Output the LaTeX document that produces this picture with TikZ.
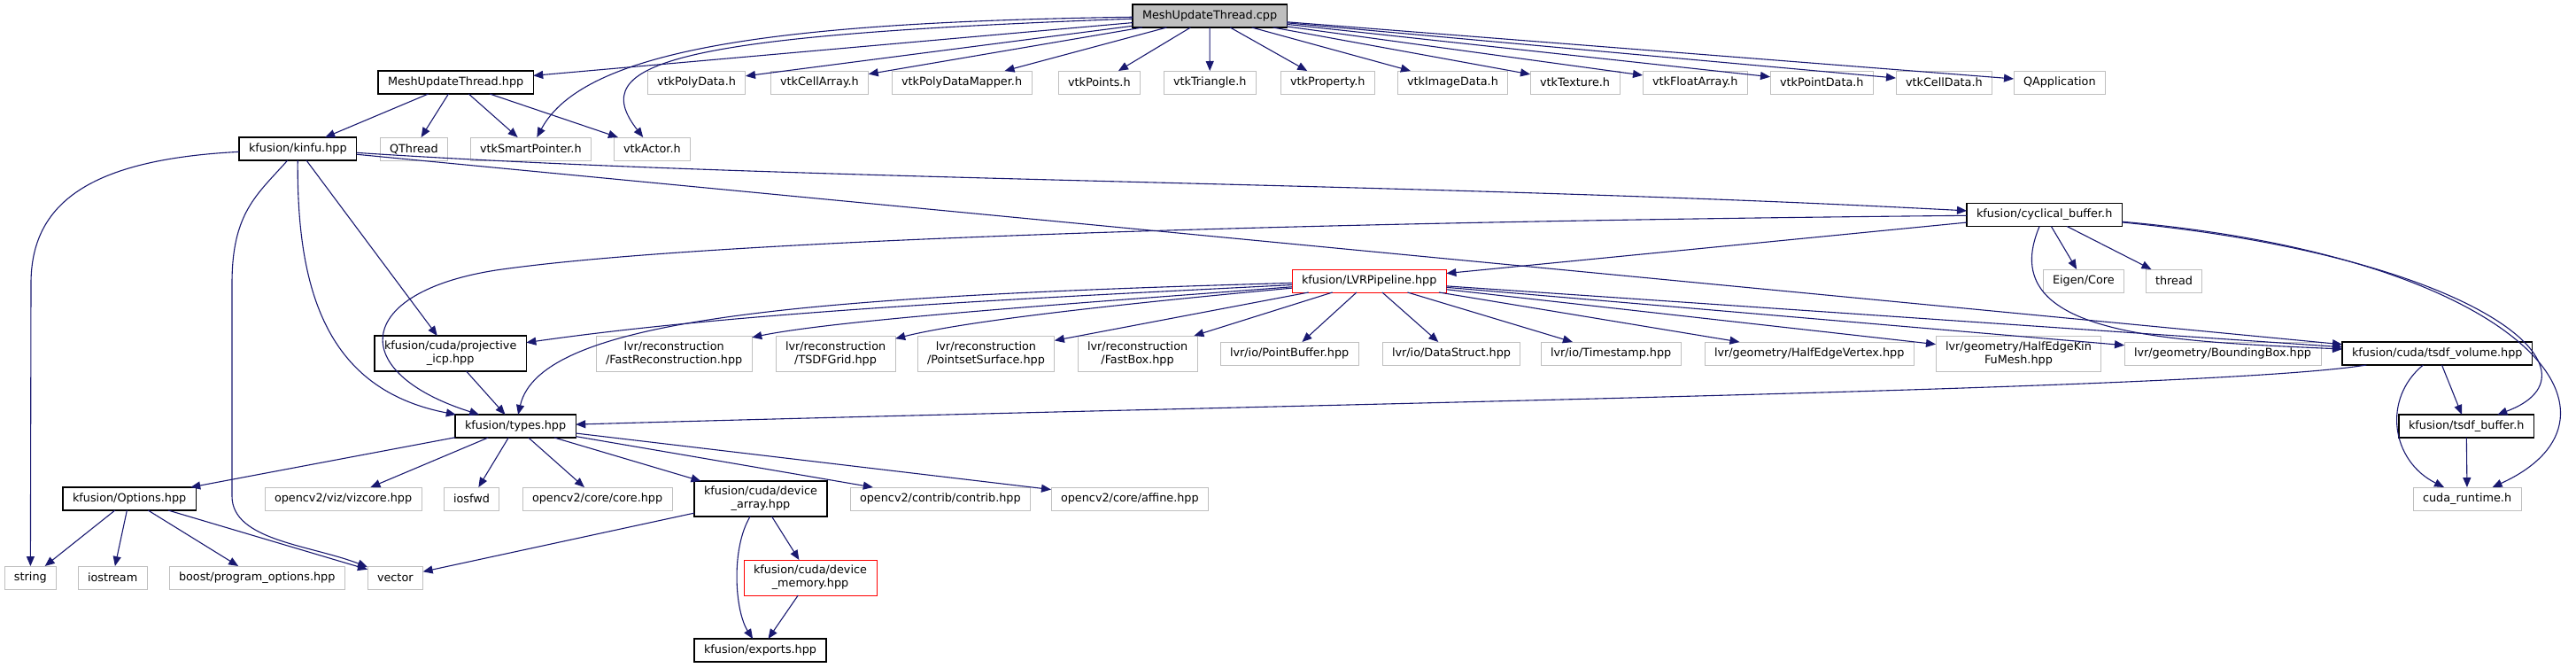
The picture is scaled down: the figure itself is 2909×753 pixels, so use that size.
\documentclass[tikz,border=0pt]{standalone}
\usepackage{fontspec}
\setmainfont{DejaVu Sans}
\usetikzlibrary{arrows.meta}

\definecolor{edgeblue}{HTML}{191970}
\definecolor{extgray}{HTML}{BFBFBF}
\definecolor{rootgray}{HTML}{BFBFBF}

\tikzset{
  box/.style={rectangle, anchor=west, align=center, inner xsep=11pt, inner ysep=3pt,
    minimum height=26pt, outer sep=0pt},
  ext/.style={box, draw=extgray, line width=1pt, fill=white},
  loc/.style={box, draw=black, line width=1.2pt, fill=white},
  bad/.style={box, draw=red, line width=1pt, fill=white},
  root/.style={box, draw=black, line width=1.2pt, fill=rootgray},
  twoline/.style={minimum height=40pt},
  edge/.style={draw=edgeblue, line width=1.1pt, -{Triangle[length=11pt,width=9pt]}}
}

\begin{document}
\begin{tikzpicture}[x=1pt,y=-1pt,font=\fontsize{12.8}{15}\selectfont]
  \useasboundingbox (0,0) rectangle (2909,753);
  % rang 1 et 2
  \node[root] (cpp) at (1279,18) {MeshUpdateThread.cpp};
  \node[loc] (muthpp) at (427,93) {MeshUpdateThread.hpp};
  \node[ext] (polydata) at (731,93) {vtkPolyData.h};
  \node[ext] (cellarray) at (870,93) {vtkCellArray.h};
  \node[ext] (pdmapper) at (1007,93) {vtkPolyDataMapper.h};
  \node[ext] (points) at (1195,93) {vtkPoints.h};
  \node[ext] (triangle) at (1314,93) {vtkTriangle.h};
  \node[ext] (property) at (1446,93) {vtkProperty.h};
  \node[ext] (imagedata) at (1578,93) {vtkImageData.h};
  \node[ext] (texture) at (1728,93) {vtkTexture.h};
  \node[ext] (floatarray) at (1855,93) {vtkFloatArray.h};
  \node[ext] (pointdata) at (1999,93) {vtkPointData.h};
  \node[ext] (celldata) at (2141,93) {vtkCellData.h};
  \node[ext] (qapp) at (2274,93) {QApplication};
  % rang 3
  \node[loc] (kinfu) at (270,168) {kfusion/kinfu.hpp};
  \node[ext] (qthread) at (429,168) {QThread};
  \node[ext] (smartptr) at (531,168) {vtkSmartPointer.h};
  \node[ext] (actor) at (693,168) {vtkActor.h};
  \node[loc] (cycbuf) at (2221,242.5) {kfusion/cyclical\_buffer.h};
  \node[bad] (lvrpipe) at (1459,317) {kfusion/LVRPipeline.hpp};
  \node[ext] (eigen) at (2307,317) {Eigen/Core};
  \node[ext] (thread) at (2423,317) {thread};
  % rang 4
  \node[loc,twoline] (projicp) at (423,399) {kfusion/cuda/projective\\\_icp.hpp};
  \node[ext,twoline] (fastrecon) at (673,399) {lvr/reconstruction\\/FastReconstruction.hpp};
  \node[ext,twoline] (tsdfgrid) at (876,399) {lvr/reconstruction\\/TSDFGrid.hpp};
  \node[ext,twoline] (pointset) at (1036,399) {lvr/reconstruction\\/PointsetSurface.hpp};
  \node[ext,twoline] (fastbox) at (1217,399) {lvr/reconstruction\\/FastBox.hpp};
  \node[ext] (pointbuf) at (1378,399) {lvr/io/PointBuffer.hpp};
  \node[ext] (datastruct) at (1561,399) {lvr/io/DataStruct.hpp};
  \node[ext] (timestamp) at (1740,399) {lvr/io/Timestamp.hpp};
  \node[ext] (hevertex) at (1925,399) {lvr/geometry/HalfEdgeVertex.hpp};
  \node[ext,twoline] (hekfmesh) at (2186,399) {lvr/geometry/HalfEdgeKin\\FuMesh.hpp};
  \node[ext] (bbox) at (2399,399) {lvr/geometry/BoundingBox.hpp};
  \node[loc] (tsdfvol) at (2645,399) {kfusion/cuda/tsdf\_volume.hpp};
  % rang 5 a 8
  \node[loc] (types) at (514,481) {kfusion/types.hpp};
  \node[loc] (tsdfbuf) at (2709,481) {kfusion/tsdf\_buffer.h};
  \node[loc] (options) at (71,563) {kfusion/Options.hpp};
  \node[ext] (vizcore) at (299,563) {opencv2/viz/vizcore.hpp};
  \node[ext] (iosfwd) at (501,563) {iosfwd};
  \node[ext] (cvcore) at (590,563) {opencv2/core/core.hpp};
  \node[loc,twoline] (devarray) at (784,563) {kfusion/cuda/device\\\_array.hpp};
  \node[ext] (contrib) at (960,563) {opencv2/contrib/contrib.hpp};
  \node[ext] (affine) at (1187,563) {opencv2/core/affine.hpp};
  \node[ext] (cudart) at (2725,563) {cuda\_runtime.h};
  \node[ext] (str) at (5,652) {string};
  \node[ext] (iostream) at (88,652) {iostream};
  \node[ext] (progopts) at (191,652) {boost/program\_options.hpp};
  \node[ext] (vec) at (415,652) {vector};
  \node[bad,twoline] (devmem) at (840,652) {kfusion/cuda/device\\\_memory.hpp};
  \node[loc] (exports) at (784,734) {kfusion/exports.hpp};

  % MeshUpdateThread.cpp
  \draw[edge] (cpp) -- (muthpp);
  \draw[edge] (cpp) -- (polydata);
  \draw[edge] (cpp) -- (cellarray);
  \draw[edge] (cpp) -- (pdmapper);
  \draw[edge] (cpp) -- (points);
  \draw[edge] (cpp) -- (triangle);
  \draw[edge] (cpp) -- (property);
  \draw[edge] (cpp) -- (imagedata);
  \draw[edge] (cpp) -- (texture);
  \draw[edge] (cpp) -- (floatarray);
  \draw[edge] (cpp) -- (pointdata);
  \draw[edge] (cpp) -- (celldata);
  \draw[edge] (cpp) -- (qapp);
  \draw[edge] (cpp) .. controls (880,25) and (660,55) .. (smartptr);
  \draw[edge] (cpp) .. controls (760,40) and (660,70) .. (actor);
  % MeshUpdateThread.hpp
  \draw[edge] (muthpp) -- (kinfu);
  \draw[edge] (muthpp) -- (qthread);
  \draw[edge] (muthpp) -- (smartptr);
  \draw[edge] (muthpp) -- (actor);
  % kinfu.hpp
  \draw[edge] (kinfu) .. controls (100,180) and (35,230) .. (35,320) -- (str);
  \draw[edge] (kinfu) .. controls (290,220) and (262,240) .. (262,320) -- (262,560)
    .. controls (262,610) and (350,615) .. (vec);
  \draw[edge] (kinfu) .. controls (335,330) and (370,440) .. (types);
  \draw[edge] (kinfu) -- (projicp);
  \draw[edge] (kinfu) .. controls (900,205) and (1600,205) .. (cycbuf);
  \draw[edge] (kinfu) -- (tsdfvol);
  % cyclical_buffer.h
  \draw[edge] (cycbuf) .. controls (1500,250) and (800,270) .. (560,305)
    .. controls (400,330) and (390,420) .. (types);
  \draw[edge] (cycbuf) -- (lvrpipe);
  \draw[edge] (cycbuf) -- (eigen);
  \draw[edge] (cycbuf) -- (thread);
  \draw[edge] (cycbuf) .. controls (2250,380) and (2450,385) .. (tsdfvol);
  \draw[edge] (cycbuf) .. controls (2800,290) and (2950,420) .. (tsdfbuf);
  \draw[edge] (cycbuf) .. controls (2850,290) and (2990,470) .. (cudart);
  % LVRPipeline.hpp
  \draw[edge] (lvrpipe) .. controls (1200,335) and (850,350) .. (projicp);
  \draw[edge] (lvrpipe) .. controls (900,335) and (610,360) .. (types);
  \draw[edge] (lvrpipe) .. controls (1250,340) and (950,360) .. (fastrecon);
  \draw[edge] (lvrpipe) .. controls (1300,340) and (1100,360) .. (tsdfgrid);
  \draw[edge] (lvrpipe) -- (pointset);
  \draw[edge] (lvrpipe) -- (fastbox);
  \draw[edge] (lvrpipe) -- (pointbuf);
  \draw[edge] (lvrpipe) -- (datastruct);
  \draw[edge] (lvrpipe) -- (timestamp);
  \draw[edge] (lvrpipe) -- (hevertex);
  \draw[edge] (lvrpipe) -- (hekfmesh);
  \draw[edge] (lvrpipe) -- (bbox);
  \draw[edge] (lvrpipe) -- (tsdfvol);
  % tsdf_volume.hpp
  \draw[edge] (tsdfvol) .. controls (2500,440) and (1500,455) .. (types);
  \draw[edge] (tsdfvol) -- (tsdfbuf);
  \draw[edge] (tsdfvol) .. controls (2690,450) and (2700,520) .. (cudart);
  \draw[edge] (tsdfbuf) -- (cudart);
  \draw[edge] (projicp) -- (types);
  % types.hpp
  \draw[edge] (types) -- (options);
  \draw[edge] (types) -- (vizcore);
  \draw[edge] (types) -- (iosfwd);
  \draw[edge] (types) -- (cvcore);
  \draw[edge] (types) -- (devarray);
  \draw[edge] (types) -- (contrib);
  \draw[edge] (types) -- (affine);
  % Options.hpp et device_array.hpp
  \draw[edge] (options) -- (str);
  \draw[edge] (options) -- (iostream);
  \draw[edge] (options) -- (progopts);
  \draw[edge] (options) -- (vec);
  \draw[edge] (devarray) -- (vec);
  \draw[edge] (devarray) -- (devmem);
  \draw[edge] (devarray) .. controls (825,620) and (830,690) .. (exports);
  \draw[edge] (devmem) -- (exports);
\end{tikzpicture}
\end{document}
